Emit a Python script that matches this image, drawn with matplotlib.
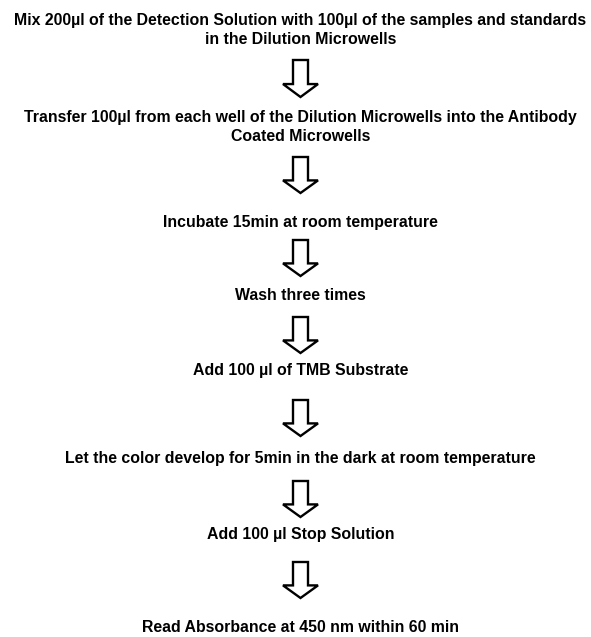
import matplotlib.pyplot as plt
from matplotlib.patches import Polygon

# Steps of the protocol
steps = [
    "Mix 200µl of the Detection Solution with 100µl of the samples and standards\nin the Dilution Microwells",
    "Transfer 100µl from each well of the Dilution Microwells into the Antibody\nCoated Microwells",
    "Incubate 15min at room temperature",
    "Wash three times",
    "Add 100 µl of TMB Substrate",
    "Let the color develop for 5min in the dark at room temperature",
    "Add 100 µl Stop Solution",
    "Read Absorbance at 450 nm within 60 min",
]

# layout (pixels from top)
text_y = [30, 127, 222, 295, 370, 458, 535, 627]
arrow_y = [(60, 97), (157, 193), (240, 276), (317, 353), (400, 436), (481, 517), (562, 598)]
cx = 300.5

W, H = 591, 637
fig = plt.figure(figsize=(W / 100, H / 100), dpi=100)
ax = fig.add_axes([0, 0, 1, 1])
ax.set_xlim(0, W)
ax.set_ylim(H, 0)
ax.axis("off")

for s, y in zip(steps, text_y):
    ax.text(cx, y, s, ha="center", va="center", fontsize=11.4, fontweight="bold",
            family="Liberation Sans", linespacing=1.35)


def down_arrow(top, bottom):
    sw, hw = 7.5, 17.5
    neck = top + (bottom - top) * 0.65
    pts = [(cx - sw, top), (cx + sw, top), (cx + sw, neck), (cx + hw, neck),
           (cx, bottom), (cx - hw, neck), (cx - sw, neck)]
    ax.add_patch(Polygon(pts, closed=True, facecolor="white", edgecolor="black",
                         linewidth=1.7, joinstyle="miter"))


for top, bottom in arrow_y:
    down_arrow(top, bottom)

fig.savefig("out.png", dpi=100)
